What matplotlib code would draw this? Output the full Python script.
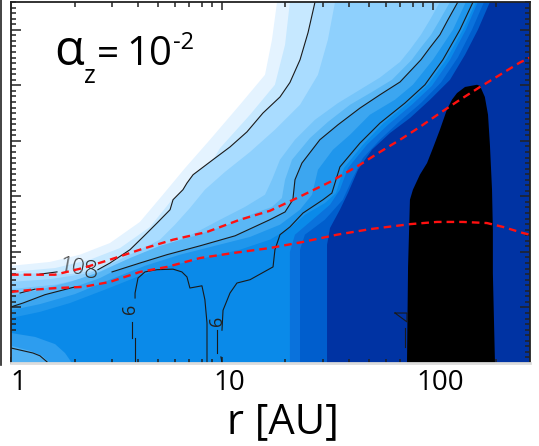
import numpy as np
import matplotlib
matplotlib.use('Agg')
import matplotlib.pyplot as plt
from matplotlib import font_manager
from matplotlib.transforms import ScaledTranslation
from matplotlib.ticker import FixedLocator, MultipleLocator, NullFormatter
from matplotlib.lines import Line2D

plt.rcParams['font.family'] = ['Open Sans', 'DejaVu Sans']
plt.rcParams['lines.scale_dashes'] = False

####### data : log10(r/AU) and height for each contour boundary

R_MIN, R_MAX = 1.0, 10**2.46
Z_MAX = 0.65

# colour band boundaries (from top edge to left/bottom edge)
w_lr = [1.261, 1.237, 1.204, 1.085, 0.943, 0.825, 0.720, 0.611, 0.469, 0.327, 0.185, 0.0]
w_z = [0.650, 0.582, 0.519, 0.465, 0.402, 0.351, 0.303, 0.254, 0.216, 0.195, 0.182, 0.175]

l2_lr = [1.322, 1.299, 1.251, 1.133, 0.991, 0.872, 0.763, 0.659, 0.517, 0.374, 0.209, 0.0]
l2_z = [0.650, 0.573, 0.501, 0.447, 0.387, 0.312, 0.294, 0.245, 0.207, 0.186, 0.171, 0.164]

a_lr = [1.441, 1.408, 1.370, 1.322, 1.275, 1.194, 1.118, 1.038, 0.957, 0.863, 0.834, 0.815,
        0.768, 0.754, 0.692, 0.626, 0.564, 0.469, 0.412, 0.280, 0.137, 0.0]
a_z = [0.650, 0.595, 0.546, 0.505, 0.479, 0.450, 0.416, 0.389, 0.366, 0.339, 0.324, 0.312,
       0.294, 0.276, 0.252, 0.227, 0.204, 0.180, 0.168, 0.160, 0.162, 0.159]

l4_lr = [1.536, 1.502, 1.455, 1.370, 1.251, 1.133, 1.014, 0.919, 0.848, 0.777, 0.706, 0.611,
         0.493, 0.374, 0.185, 0.0]
l4_z = [0.650, 0.582, 0.519, 0.465, 0.420, 0.380, 0.344, 0.312, 0.279, 0.249, 0.222, 0.204,
        0.182, 0.162, 0.151, 0.146]

l5_lr = [2.033, 1.986, 1.943, 1.891, 1.844, 1.749, 1.654, 1.550, 1.441, 1.346, 1.275, 1.237,
         1.204, 1.109, 0.991, 0.872, 0.730, 0.611, 0.493, 0.351, 0.209, 0.0]
l5_z = [0.650, 0.618, 0.591, 0.564, 0.542, 0.514, 0.492, 0.468, 0.438, 0.402, 0.366, 0.330,
        0.303, 0.281, 0.258, 0.234, 0.211, 0.195, 0.177, 0.153, 0.141, 0.133]

l6_lr = [2.081, 2.033, 1.991, 1.943, 1.900, 1.806, 1.711, 1.607, 1.502, 1.417, 1.332, 1.299,
         1.284, 1.237, 1.156, 1.014, 0.872, 0.706, 0.564, 0.422, 0.280, 0.137, 0.0]
l6_z = [0.650, 0.618, 0.591, 0.568, 0.546, 0.510, 0.488, 0.465, 0.434, 0.405, 0.366, 0.330,
        0.297, 0.281, 0.270, 0.247, 0.229, 0.211, 0.189, 0.164, 0.146, 0.132, 0.121]

b1_lr = [2.118, 2.071, 2.033, 1.986, 1.943, 1.844, 1.749, 1.654, 1.550, 1.464, 1.379, 1.346,
         1.336, 1.299, 1.227, 1.062, 0.896, 0.739, 0.611, 0.479, 0.422, 0.303, 0.161, 0.057, 0.0]
b1_z = [0.650, 0.618, 0.591, 0.568, 0.546, 0.506, 0.483, 0.459, 0.429, 0.402, 0.360, 0.330,
        0.294, 0.272, 0.258, 0.229, 0.211, 0.195, 0.180, 0.164, 0.153, 0.137, 0.123, 0.108, 0.101]

l7_lr = [2.156, 2.095, 2.000, 1.905, 1.820, 1.701, 1.607, 1.526, 1.455, 1.427, 1.370, 1.275,
         1.133, 0.967, 0.801, 0.635, 0.469, 0.303, 0.137, 0.0]
l7_z = [0.650, 0.600, 0.546, 0.501, 0.474, 0.447, 0.411, 0.384, 0.348, 0.303, 0.276, 0.249,
        0.227, 0.211, 0.195, 0.175, 0.150, 0.124, 0.106, 0.095]

cb_lr = [2.204, 2.142, 2.062, 1.976, 1.882, 1.763, 1.668, 1.578, 1.540, 1.488, 1.393, 1.322,
         1.227, 1.085, 0.919, 0.754, 0.611, 0.445, 0.280, 0.137, 0.0]
cb_z = [0.650, 0.600, 0.546, 0.501, 0.468, 0.431, 0.393, 0.351, 0.306, 0.288, 0.267, 0.243,
        0.222, 0.204, 0.189, 0.175, 0.157, 0.132, 0.108, 0.092, 0.081]

n1_lr = [2.213, 2.156, 2.081, 1.995, 1.900, 1.787, 1.687, 1.597, 1.559, 1.512, 1.417, 1.346, 1.322, 1.322]
n1_z = [0.650, 0.600, 0.546, 0.499, 0.465, 0.429, 0.393, 0.351, 0.312, 0.285, 0.254, 0.231, 0.200, 0.0]

n2_lr = [2.242, 2.185, 2.118, 2.038, 1.943, 1.839, 1.749, 1.668, 1.616, 1.573, 1.488, 1.393, 1.370, 1.370]
n2_z = [0.650, 0.600, 0.550, 0.505, 0.468, 0.434, 0.402, 0.369, 0.330, 0.294, 0.258, 0.231, 0.204, 0.0]

n3_lr = [2.270, 2.213, 2.152, 2.081, 1.986, 1.891, 1.796, 1.711, 1.645, 1.597, 1.559, 1.512, 1.498, 1.498]
n3_z = [0.650, 0.600, 0.555, 0.510, 0.474, 0.441, 0.414, 0.384, 0.348, 0.306, 0.276, 0.243, 0.213, 0.0]

band_colors = ['#e4f3ff', '#c6e8ff', '#a9dcff', '#8ed0fd', '#76c5fa', '#5ab7f5', '#3ca6f0',
               '#1f96ec', '#0a8ae9', '#0a72dc', '#005ecd', '#0033a3']

# lighter patch in the bottom left corner
p1_lr = [0.0, 0.114, 0.209, 0.256, 0.289]
p1_z = [0.054, 0.047, 0.034, 0.018, 0.0]
p2_lr = [0.0, 0.090, 0.147, 0.185]
p2_z = [0.031, 0.022, 0.013, 0.0]

# black region
blk_lr = [1.877, 1.882, 1.891, 1.905, 1.938, 1.972, 2.000, 2.033, 2.066, 2.090, 2.114, 2.152,
          2.209, 2.223, 2.246, 2.261, 2.270, 2.280, 2.284, 2.284, 2.294]
blk_z = [0.0, 0.173, 0.294, 0.312, 0.339, 0.360, 0.387, 0.420, 0.456, 0.474, 0.486, 0.497,
         0.501, 0.499, 0.479, 0.447, 0.393, 0.312, 0.240, 0.162, 0.0]

# black contour lines
b2_lr = [2.190, 2.128, 2.047, 1.962, 1.867, 1.749, 1.654, 1.559, 1.521, 1.479, 1.384, 1.322,
         1.275, 1.251, 1.242, 1.133, 1.071, 1.038, 1.005, 1.000]
b2_z = [0.650, 0.600, 0.546, 0.501, 0.468, 0.432, 0.396, 0.353, 0.306, 0.294, 0.270, 0.245,
        0.231, 0.204, 0.173, 0.150, 0.144, 0.126, 0.095, 0.059]

hump_lr = [0.588, 0.588, 0.602, 0.635, 0.692, 0.768, 0.810, 0.834, 0.848, 0.905, 0.919, 0.929, 0.929]
hump_z = [0.117, 0.126, 0.153, 0.164, 0.168, 0.169, 0.164, 0.155, 0.135, 0.139, 0.114, 0.072, 0.0]

small_lines = [
    ([0.137, 0.218], [0.160, 0.164]),
    ([0.043, 0.114], [0.126, 0.133]),
    ([0.573, 0.573], [0.074, 0.045]),
    ([0.588, 0.588], [0.045, 0.0]),
    ([0.976, 0.976], [0.059, 0.018]),
    ([0.995, 1.000], [0.011, 0.0]),
    ([0.0, 0.104, 0.137, 0.171], [0.027, 0.018, 0.013, 0.002]),
    ([1.820, 1.877, 1.877, 1.820], [0.090, 0.090, 0.074, 0.090]),
    ([1.867, 1.867], [0.063, 0.029]),
]

# red dashed lines
red1_lr = [0.0, 0.209, 0.341, 0.469, 0.611, 0.768, 0.929, 1.085, 1.227, 1.355, 1.512, 1.654,
           1.749, 1.844, 1.938, 2.033, 2.128, 2.223, 2.318, 2.412, 2.460]
red1_z = [0.159, 0.159, 0.171, 0.186, 0.204, 0.222, 0.236, 0.258, 0.274, 0.297, 0.326, 0.357,
          0.380, 0.402, 0.425, 0.450, 0.474, 0.497, 0.519, 0.541, 0.550]
red2_lr = [0.0, 0.104, 0.218, 0.341, 0.469, 0.611, 0.739, 0.896, 1.052, 1.227, 1.384, 1.545,
           1.701, 1.891, 2.019, 2.142, 2.256, 2.332, 2.427, 2.460]
red2_z = [0.128, 0.132, 0.135, 0.137, 0.146, 0.164, 0.173, 0.189, 0.198, 0.207, 0.218, 0.231,
          0.241, 0.250, 0.254, 0.254, 0.252, 0.245, 0.234, 0.231]

xticks = [1, 10, 100]
xticklabels = ['1', '10', '100']
xminor = [2, 3, 4, 5, 6, 7, 8, 9, 20, 30, 40, 50, 60, 70, 80, 90, 200]

####### figure

fig = plt.figure(figsize=(5.39, 4.46), dpi=100)
ax = fig.add_axes([11/539, (446-363)/446, 519/539, 361/446])
ax.set_xscale('log')
ax.set_xlim(R_MIN, R_MAX)
ax.set_ylim(0, Z_MAX)


def band_polygon(lr, z):
    xs = list(10**np.array(lr))
    ys = list(z)
    if ys[-1] > 0:
        xs.append(R_MIN)
        ys.append(0)
    xs += [R_MAX, R_MAX]
    ys += [0, Z_MAX]
    return xs, ys


bounds = [(w_lr, w_z), (l2_lr, l2_z), (a_lr, a_z), (l4_lr, l4_z), (l5_lr, l5_z), (l6_lr, l6_z),
          (b1_lr, b1_z), (l7_lr, l7_z), (cb_lr, cb_z), (n1_lr, n1_z), (n2_lr, n2_z), (n3_lr, n3_z)]
for (lr, z), c in zip(bounds, band_colors):
    xs, ys = band_polygon(lr, z)
    ax.fill(xs, ys, color=c, lw=0, zorder=1)

for lr, z, c in [(p1_lr, p1_z, '#2d9def'), (p2_lr, p2_z, '#4fb0f3')]:
    xs = [R_MIN] + list(10**np.array(lr))
    ys = [0] + list(z)
    ax.fill(xs, ys, color=c, lw=0, zorder=2)

ax.fill(10**np.array(blk_lr), blk_z, color='black', lw=0, zorder=3)

lc = '#1a1a1a'
ax.plot(10**np.array(a_lr[:19]), a_z[:19], color=lc, lw=0.8, zorder=4)
ax.plot(10**np.array(b1_lr[:20]), b1_z[:20], color=lc, lw=0.8, zorder=4)
ax.plot(10**np.array(b1_lr[21:]), b1_z[21:], color=lc, lw=0.8, zorder=4)
ax.plot(10**np.array(b2_lr), b2_z, color=lc, lw=0.8, zorder=4)
ax.plot(10**np.array(hump_lr), hump_z, color=lc, lw=0.8, zorder=4)
for lr, z in small_lines:
    ax.plot(10**np.array(lr), z, color=lc, lw=0.8, zorder=4)

ax.text(10**0.289, 0.171, '10', fontsize=16, color='#333333', ha='center', va='center',
        rotation=-10, zorder=4, fontweight='light')
ax.text(10**0.379, 0.164, '8', fontsize=18, color='#333333', ha='center', va='center',
        zorder=4, fontweight='light')
ax.text(10**0.564, 0.097, '6', fontsize=13, color='#222222', ha='center', va='center',
        rotation=90, zorder=4)
ax.text(10**0.976, 0.076, '6', fontsize=13, color='#222222', ha='center', va='center',
        rotation=90, zorder=4)

for lr, z in [(red1_lr, red1_z), (red2_lr, red2_z)]:
    ax.plot(10**np.array(lr), z, color='#ff1010', lw=1.7, dashes=(5.5, 3.6), zorder=5)

# axes, ticks
for s in ax.spines.values():
    s.set_color('#222222')
    s.set_linewidth(1.3)
    s.set_zorder(6)
ax.spines['bottom'].set_color('#dcdcdc')
ax.spines['bottom'].set_linewidth(2)
ax.xaxis.set_major_locator(FixedLocator(xticks))
ax.xaxis.set_minor_locator(FixedLocator(xminor))
ax.set_xticklabels(xticklabels)
ax.xaxis.set_minor_formatter(NullFormatter())
ax.yaxis.set_major_locator(MultipleLocator(0.1))
ax.yaxis.set_minor_locator(MultipleLocator(0.01))
ax.tick_params(which='both', direction='in', top=True, right=True, color='#222222', width=1.1)
ax.tick_params(axis='y', which='major', length=7.5)
ax.tick_params(axis='y', which='minor', length=3.8)
ax.tick_params(axis='x', which='major', length=6)
ax.tick_params(axis='x', which='minor', length=3.8)
ax.tick_params(axis='y', labelleft=False)
ax.tick_params(axis='x', labelsize=20, pad=4)
for t in ax.xaxis.get_major_ticks(len(xticks)):
    t.label1.set_transform(t.label1.get_transform() + ScaledTranslation(7/100, 0, fig.dpi_scale_trans))
    t.tick1line.set_color('#dcdcdc')
    t.tick1line.set_markersize(4)
for t in ax.xaxis.get_minor_ticks(len(xminor)):
    t.tick1line.set_color('#dcdcdc')
    t.tick1line.set_markersize(3)

fig.text(283/539, (446-433)/446, 'r [AU]', fontsize=30, ha='center', va='baseline')

# alpha_z label, narrow font if there is one
names = {f.name for f in font_manager.fontManager.ttflist}
if 'Liberation Sans Narrow' in names:
    lab_font = ['Liberation Sans Narrow', 'DejaVu Sans']
    sizes = (40, 22, 32, 32, 18)
else:
    lab_font = ['Open Sans', 'DejaVu Sans']
    sizes = (35, 18, 28, 29, 17)


def fpos(px, py):
    return px/539, (446-py)/446


fig.text(*fpos(54, 65), 'α', fontsize=sizes[0], ha='left', va='baseline', family=lab_font)
fig.text(*fpos(84, 83), 'z', fontsize=sizes[1], ha='left', va='baseline', family=lab_font)
fig.text(*fpos(97, 65), '=', fontsize=sizes[2], ha='left', va='baseline', family=lab_font)
fig.text(*fpos(126, 65), '10', fontsize=sizes[3], ha='left', va='baseline', family=lab_font)
fig.text(*fpos(173, 49), '-2', fontsize=sizes[4], ha='left', va='baseline', family=lab_font)

fig.add_artist(Line2D([1/539, 1/539], [1, (446-365)/446], color='#222222', lw=1.2))

fig.savefig('out.png', dpi=100)
